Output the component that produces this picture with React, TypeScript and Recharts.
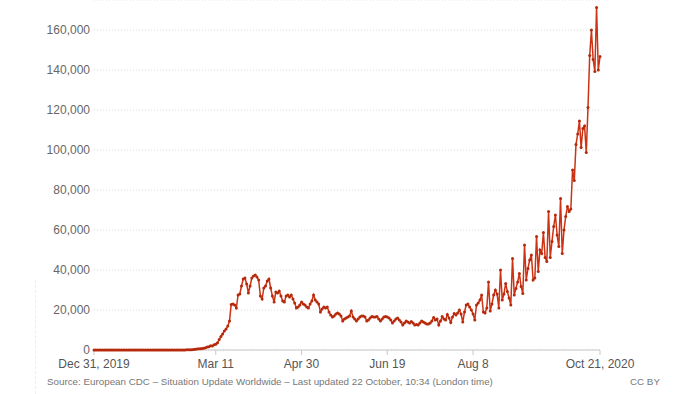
import React from "react";
import { LineChart, Line, XAxis, YAxis, CartesianGrid } from "recharts";

// Daily new confirmed cases, Europe (Dec 31, 2019 – Oct 21, 2020), one value per day
const dec2019 = [0];
const jan = [
  0, 0, 0, 0, 0, 0, 0, 0, 0, 0, 0, 0, 0, 0, 0, 0, 0, 0, 0, 0, 0, 0, 0, 0,
  3, 0, 1, 4, 0, 1, 5,
];
const feb = [
  5, 2, 1, 1, 2, 3, 1, 5, 2, 5, 2, 1, 3, 1, 1, 0, 0, 1, 0, 1, 17,
  60, 70, 130, 110, 170, 280, 330, 440,
];
const mar = [
  630, 580, 740, 820, 1140, 1490, 1640, 2160, 2000, 2660,
  2900, 3600, 5200, 6800, 8000, 9500, 10500, 12000, 14500,
  22800, 23000, 22500, 21000, 27500, 28000, 32000, 35500, 36000, 33000,
  28500, 32000,
];
const apr = [
  36000, 37000, 37500, 36500, 35000, 27000, 25500, 31000,
  32000, 34500, 35500, 31000, 27000, 24000, 29000, 28500, 29500, 27000,
  24500, 24000, 27000, 27500, 26500, 27500, 25500, 23500, 21000, 21500,
  22500, 24000,
];
const may = [
  23000, 22500, 21500, 21000, 23000, 24500, 27500, 25000,
  24000, 23000, 19000, 20500, 21500, 21000, 21500, 19000, 17500, 16500,
  17000, 18000, 18500, 18000, 17000, 14500, 15500, 16000, 16500, 17000,
  19500, 16500, 15500,
];
const jun = [
  14500, 15500, 16500, 17000, 17000, 16500, 14500,
  15000, 16000, 16800, 16500, 16500, 16800, 15500, 14500, 15500, 16500,
  16800, 16500, 16000, 15000, 13500, 14500, 15500, 16000, 15000, 14000,
  12500, 13500, 14500,
];
const jul = [
  14000, 13500, 14200, 13500, 12500, 12800, 12500,
  13500, 14500, 14000, 13500, 13000, 13000, 13500, 14500, 16300, 15000,
  15500, 12500, 14500, 16700, 15500, 15000, 17800, 16000, 13700, 16500,
  18300, 17500, 18500, 20000,
];
const aug = [
  18000, 14000, 19000, 22500, 23000, 21500,
  20000, 18000, 15000, 22500, 23500, 25000, 27500, 19000, 18500, 21000,
  34000, 19500, 23000, 27500, 30000, 28000, 21000, 40000, 25000, 28000,
  33300, 29200, 26000, 22500, 45800,
];
const sep = [
  27500, 30800, 34000, 38300, 31700,
  28300, 52500, 35000, 40800, 45000, 47500, 35000, 36000, 56700, 39200,
  50000, 48300, 58700, 46300, 44200, 69200, 46300, 54200, 61700, 67500,
  57500, 51700, 75800, 48300, 60000,
];
const oct = [
  66700, 71700, 69200, 70500,
  90000, 84700, 102800, 108000, 114500, 101200, 110800, 112000, 98800,
  121200, 147200, 160000, 145300, 139200, 171300, 140000, 146700,
];

const tickDays = [0, 71, 121, 171, 221, 295];
const tickLabels = ["Dec 31, 2019", "Mar 11", "Apr 30", "Jun 19", "Aug 8", "Oct 21, 2020"];
const yTicks = [0, 20000, 40000, 60000, 80000, 100000, 120000, 140000, 160000];

const allCases = [
  ...dec2019, ...jan, ...feb, ...mar, ...apr, ...may, ...jun, ...jul, ...aug, ...sep, ...oct,
];
const data = allCases.map((v, i) => ({ day: i, cases: v }));

const FONT = "'Liberation Sans', Arial, Helvetica, sans-serif";

export default function App() {
  return (
    <div
      style={{
        position: "absolute",
        left: 0,
        top: 0,
        width: 700,
        height: 394,
        background: "#fff",
        fontFamily: FONT,
        overflow: "hidden",
      }}
    >
      <div
        style={{
          position: "absolute",
          left: 35,
          top: 280,
          height: 114,
          borderLeft: "1px dashed #eeeeee",
        }}
      />
      <LineChart
        width={700}
        height={394}
        data={data}
        margin={{ top: 0, right: 100, bottom: 14, left: 0 }}
        style={{ fontFamily: FONT }}
      >
        <CartesianGrid vertical={false} stroke="#dcdcdc" strokeDasharray="1 2" />
        <XAxis
          dataKey="day"
          type="number"
          domain={[0, 295]}
          ticks={tickDays}
          interval={0}
          tickFormatter={(v: number) => tickLabels[tickDays.indexOf(v)] ?? ""}
          height={30}
          axisLine={{ stroke: "#c8c8c8" }}
          tickLine={{ stroke: "#c8c8c8" }}
          tickSize={5}
          tickMargin={4}
          tick={{ fill: "#555", fontSize: 12 }}
        />
        <YAxis
          type="number"
          domain={[0, 175000]}
          ticks={yTicks}
          width={94}
          axisLine={false}
          tickLine={false}
          tickSize={0}
          tickMargin={4}
          tick={{ fill: "#666", fontSize: 12 }}
          tickFormatter={(v: number) => v.toLocaleString("en-US")}
        />
        <Line
          type="linear"
          dataKey="cases"
          stroke="#cc3314"
          strokeWidth={1.5}
          dot={{ r: 1.5, fill: "#b52a0c", stroke: "none" }}
          isAnimationActive={false}
        />
      </LineChart>
      <div
        style={{
          position: "absolute",
          left: 47,
          top: 376,
          fontSize: 9.8,
          color: "#777",
          whiteSpace: "nowrap",
        }}
      >
        Source: European CDC – Situation Update Worldwide – Last updated 22 October, 10:34 (London time)
      </div>
      <div
        style={{
          position: "absolute",
          left: 630,
          top: 376,
          fontSize: 9.8,
          color: "#777",
          whiteSpace: "nowrap",
        }}
      >
        CC BY
      </div>
    </div>
  );
}
